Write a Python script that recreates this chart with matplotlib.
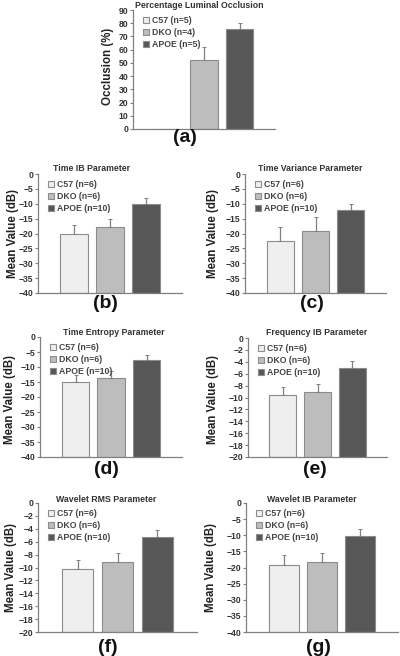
import matplotlib
matplotlib.use("Agg")
import matplotlib.pyplot as plt

plt.rcParams["font.family"] = ["Liberation Sans", "DejaVu Sans"]

groups = ["C57", "DKO", "APOE"]
colors = ["#efefef", "#bdbdbd", "#575757"]

# panel data: means and (upper) error bars
occl_n = [5, 4, 5]
occl_mean = [0, 52, 76]
occl_err = [0, 10, 4]

dec_n = [6, 6, 10]
time_ib = [-20.0, -17.8, -10.0]
time_ib_err = [2.7, 2.8, 2.0]
time_var = [-22.5, -19.2, -12.1]
time_var_err = [4.7, 4.9, 2.1]
time_ent = [-15.0, -13.5, -7.5]
time_ent_err = [2.2, 2.2, 1.5]
freq_ib = [-9.6, -9.1, -5.0]
freq_ib_err = [1.4, 1.4, 1.1]
wav_rms = [-10.2, -9.2, -5.2]
wav_rms_err = [1.4, 1.4, 1.0]
wav_ib = [-19.3, -18.3, -10.2]
wav_ib_err = [3.3, 2.8, 2.2]

W, H = 400, 656
fig = plt.figure(figsize=(W / 100, H / 100), dpi=100)


def box(l, r, t, b):
    return [l / W, 1 - b / H, (r - l) / W, (b - t) / H]


def panel(pos, means, errs, ns, ylim, step, title, tpos, ylabel, ypos, tag, tagpos):
    ax = fig.add_axes(box(*pos))
    lo, hi = ylim
    for i, (m, e, c) in enumerate(zip(means, errs, colors)):
        # bars rise from the bottom of the value axis, as in Excel
        ax.bar(i, m - lo, bottom=lo, width=0.78, color=c, edgecolor="#8c8c8c",
               linewidth=0.8, label=f"{groups[i]} (n={ns[i]})", zorder=2)
        if e:
            ax.errorbar(i, m, yerr=[[0], [e]], fmt="none", ecolor="#808080",
                        elinewidth=0.9, capsize=1.2, capthick=0.7, zorder=3)
    ax.set_xlim(-1.0, 3.0)
    ax.set_ylim(lo, hi)
    ax.set_yticks(range(int(lo), int(hi) + 1, step))
    ax.set_xticks([])
    for s in ["top", "right"]:
        ax.spines[s].set_visible(False)
    for s in ["left", "bottom"]:
        ax.spines[s].set_color("#808080")
        ax.spines[s].set_linewidth(0.9)
    ax.tick_params(axis="y", length=2.5, width=0.8, color="#808080", pad=1,
                   labelsize=6.2, labelcolor="#333333")
    for lab in ax.get_yticklabels():
        lab.set_fontweight("bold")
    leg = ax.legend(loc="upper left", bbox_to_anchor=(0.02, 1.01), frameon=False,
                    fontsize=6.3, handlelength=0.7, handleheight=0.7,
                    handletextpad=0.3, labelspacing=0.35, borderaxespad=0.4)
    for t in leg.get_texts():
        t.set_color("#444444")
        t.set_fontweight("bold")
    fig.text(tpos[0] / W, 1 - tpos[1] / H, title, ha="center", va="center",
             fontsize=6.3, fontweight="bold", color="#333333")
    fig.text(ypos[0] / W, 1 - ypos[1] / H, ylabel, ha="center", va="center",
             rotation=90, fontsize=8.3, fontweight="bold", color="#222222")
    fig.text(tagpos[0] / W, 1 - tagpos[1] / H, tag, ha="center", va="center",
             fontsize=14, fontweight="bold", color="#111111")
    return ax


panel((133, 275, 10, 129), occl_mean, occl_err, occl_n, (0, 90), 10,
      "Percentage Luminal Occlusion", (199, 5), "Occlusion (%)", (108, 66),
      "(a)", (185, 137))
panel((38, 182, 174, 293), time_ib, time_ib_err, dec_n, (-40, 0), 5,
      "Time IB Parameter", (92, 169), "Mean Value (dB)", (13, 233),
      "(b)", (105, 303))
panel((245, 386, 174, 293), time_var, time_var_err, dec_n, (-40, 0), 5,
      "Time Variance Parameter", (310, 169), "Mean Value (dB)", (213, 233),
      "(c)", (312, 303))
panel((40, 182, 337, 457), time_ent, time_ent_err, dec_n, (-40, 0), 5,
      "Time Entropy Parameter", (114, 333), "Mean Value (dB)", (10, 400),
      "(d)", (106, 470))
panel((248, 387, 338, 457), freq_ib, freq_ib_err, dec_n, (-20, 0), 2,
      "Frequency IB Parameter", (317, 333), "Mean Value (dB)", (213, 400),
      "(e)", (315, 470))
panel((38, 197, 503, 632), wav_rms, wav_rms_err, dec_n, (-20, 0), 2,
      "Wavelet RMS Parameter", (106, 499), "Mean Value (dB)", (11, 567),
      "(f)", (108, 647))
panel((246, 398, 503, 632), wav_ib, wav_ib_err, dec_n, (-40, 0), 5,
      "Wavelet IB Parameter", (312, 499), "Mean Value (dB)", (211, 567),
      "(g)", (318, 647))

fig.savefig("out.png", dpi=100, facecolor="white")
